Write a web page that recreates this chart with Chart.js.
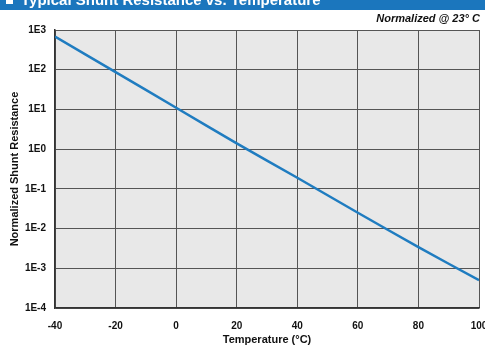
<!DOCTYPE html>
<html>
<head>
<meta charset="utf-8">
<script src="https://cdn.jsdelivr.net/npm/chart.js@4"></script>
<style>
  html, body { margin: 0; padding: 0; background: #fff; }
  #wrap { width: 485px; height: 347px; position: relative; }
</style>
</head>
<body>
<div id="wrap"><canvas id="myChart" width="485" height="347"></canvas></div>
<script>
const ctx = document.getElementById('myChart').getContext('2d');

// values
const temps = [-40, -20, 0, 20, 40, 60, 80, 100];
const resistance = [680, 87, 11, 1.4, 0.19, 0.025, 0.0034, 0.0005];
const yTicks = [1e-4, 1e-3, 1e-2, 1e-1, 1, 10, 100, 1000];
const yTickLabels = ['1E-4', '1E-3', '1E-2', '1E-1', '1E0', '1E1', '1E2', '1E3'];

const chartTitle = 'Typical Shunt Resistance vs. Temperature';
const noteText = 'Normalized @ 23\u00B0 C';

const FONT = '"Liberation Sans", Arial, sans-serif';

const decorations = {
    id: 'decorations',
    beforeDraw: (chart) => {
        const c = chart.ctx;
        const a = chart.chartArea;
        c.save();
        c.fillStyle = '#e8e8e8';
        c.fillRect(a.left, a.top, a.right - a.left, a.bottom - a.top);
        // blue header band, cut off at the top
        c.fillStyle = '#1b76bd';
        c.fillRect(0, 0, chart.width, 10);
        c.fillStyle = '#fff';
        c.fillRect(6, 0, 7, 4);
        c.font = 'bold 15px ' + FONT;
        c.textBaseline = 'alphabetic';
        c.fillText(chartTitle, 21, 5);
        // note above the plot
        c.fillStyle = '#111';
        c.font = 'italic bold 11px ' + FONT;
        c.textAlign = 'right';
        c.fillText(noteText, a.right + 1, 22);
        c.restore();
    }
};

const chart = new Chart(ctx, {
    type: 'line',
    data: {
        datasets: [{
            data: temps.map((t, i) => ({ x: t, y: resistance[i] })),
            borderColor: '#1f7cc0',
            borderWidth: 2.5,
            pointRadius: 0,
            tension: 0.2,
            fill: false
        }]
    },
    options: {
        responsive: false,
        animation: false,
        layout: { padding: { top: 30, right: 6, left: 0, bottom: 0 } },
        plugins: {
            legend: { display: false },
            tooltip: { enabled: false }
        },
        scales: {
            x: {
                type: 'linear',
                min: -40,
                max: 100,
                afterFit: (s) => { s.height = 39; s.paddingRight = 0; },
                ticks: {
                    stepSize: 20,
                    padding: 12,
                    color: '#111',
                    font: { family: FONT, size: 10, weight: 'bold' }
                },
                grid: { color: '#555', lineWidth: 1, drawTicks: false },
                border: { display: true, color: '#333', width: 1.5 },
                title: {
                    display: true,
                    text: 'Temperature (\u00B0C)',
                    color: '#111',
                    padding: { top: 0, bottom: 0 },
                    font: { family: FONT, size: 11, weight: 'bold' }
                }
            },
            y: {
                type: 'logarithmic',
                min: 1e-4,
                max: 1e3,
                afterFit: (s) => { s.width = 55; },
                afterBuildTicks: (s) => { s.ticks = yTicks.map(v => ({ value: v })); },
                ticks: {
                    padding: 9,
                    color: '#111',
                    font: { family: FONT, size: 10, weight: 'bold' },
                    callback: (v) => yTickLabels[yTicks.findIndex(t => Math.abs(Math.log10(t) - Math.log10(v)) < 1e-6)]
                },
                grid: { color: '#555', lineWidth: 1, drawTicks: false },
                border: { display: true, color: '#333', width: 1.5 },
                title: {
                    display: true,
                    text: 'Normalized Shunt Resistance',
                    color: '#111',
                    padding: { top: 8, bottom: 0 },
                    font: { family: FONT, size: 11, weight: 'bold' }
                }
            }
        }
    },
    plugins: [decorations]
});
</script>
</body>
</html>
